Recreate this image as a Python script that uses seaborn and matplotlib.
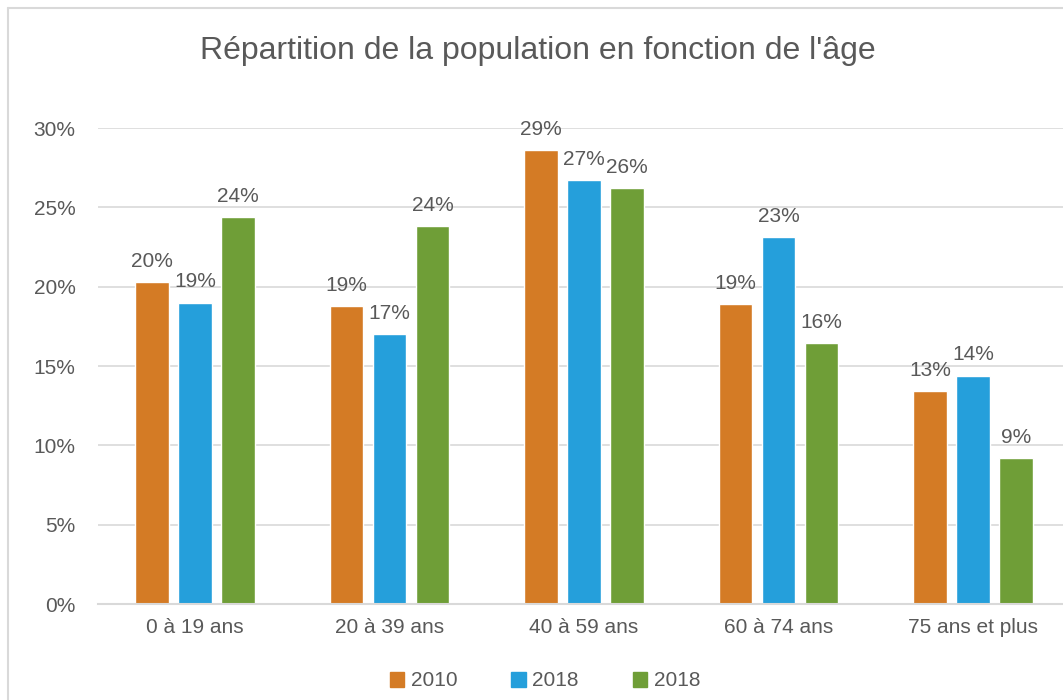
import pandas as pd
import matplotlib
matplotlib.use("Agg")
import matplotlib.pyplot as plt
from matplotlib.lines import Line2D
from matplotlib.ticker import FuncFormatter
import seaborn as sns

categories = ["0 à 19 ans", "20 à 39 ans", "40 à 59 ans", "60 à 74 ans", "75 ans et plus"]
series_keys = ["2010", "2018a", "2018b"]
legend_labels = ["2010", "2018", "2018"]
values_2010 = [20.3, 18.8, 28.6, 18.9, 13.4]
values_2018a = [19.0, 17.0, 26.7, 23.1, 14.4]
values_2018b = [24.4, 23.8, 26.2, 16.45, 9.2]
colors = ["#D47B25", "#259FDB", "#6F9E37"]

TEXT = "#595959"
GRID = "#D9D9D9"


def build_table():
    rows = []
    for key, vals in zip(series_keys, [values_2010, values_2018a, values_2018b]):
        for cat, v in zip(categories, vals):
            rows.append({"age": cat, "serie": key, "pct": v})
    return pd.DataFrame(rows)


df = build_table()

sns.set_style("white")
plt.rcParams["font.family"] = ["Liberation Sans Narrow", "Liberation Sans", "DejaVu Sans"]

fig = plt.figure(figsize=(10.63, 7.0), dpi=100)
ax = fig.add_axes([97.75 / 1063, 96 / 700, 972.5 / 1063, 476 / 700])

sns.barplot(data=df, x="age", y="pct", hue="serie", order=categories,
            hue_order=series_keys, palette=colors, width=0.663, gap=0.21,
            saturation=1, ax=ax, legend=True)

ax.set_ylim(0, 30)
ax.set_yticks(range(0, 31, 5))
ax.yaxis.set_major_formatter(FuncFormatter(lambda v, p: f"{v:.0f}%"))
ax.grid(axis="y", color=GRID, lw=1.2)
ax.set_axisbelow(True)
for s in ["top", "right", "left"]:
    ax.spines[s].set_visible(False)
ax.spines["bottom"].set_color(GRID)
ax.spines["bottom"].set_linewidth(1.5)
ax.tick_params(axis="y", length=0, pad=16, labelsize=15, labelcolor=TEXT)
ax.tick_params(axis="x", length=0, pad=10, labelsize=15, labelcolor=TEXT)
ax.set_xlabel("")
ax.set_ylabel("")

for cont in ax.containers:
    ax.bar_label(cont, fmt="%.0f%%", padding=8, fontsize=15, color=TEXT)

ax.legend_.remove()
handles = [plt.Rectangle((0, 0), 1, 1, color=c) for c in colors]
fig.legend(handles, legend_labels, loc="center", bbox_to_anchor=(545 / 1063, 1 - 681 / 700),
           ncol=3, frameon=False, fontsize=15, labelcolor=TEXT, handlelength=0.7,
           handleheight=0.7, handletextpad=0.3, columnspacing=2.6)

fig.text(538 / 1063, 1 - 51 / 700, "Répartition de la population en fonction de l'âge",
         ha="center", va="center", fontsize=23, color=TEXT)

# chart frame (cropped on the right and bottom)
fig.add_artist(Line2D([8 / 1063, 8 / 1063], [0, 1 - 8 / 700], color=GRID, lw=1.5))
fig.add_artist(Line2D([8 / 1063, 1], [1 - 8 / 700, 1 - 8 / 700], color=GRID, lw=1.5))

fig.savefig("out.png", dpi=100)
